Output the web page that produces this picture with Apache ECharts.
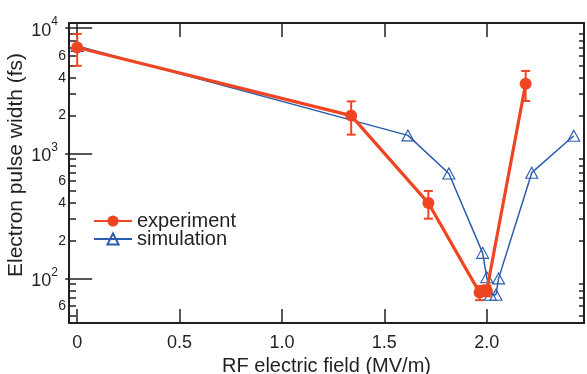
<!DOCTYPE html>
<html>
<head>
<meta charset="utf-8">
<script src="https://cdn.jsdelivr.net/npm/echarts@6/dist/echarts.min.js"></script>
<style>
  html, body { margin: 0; padding: 0; background: #fff; }
  #chart { width: 587px; height: 374px; }
</style>
</head>
<body>
<div id="chart"></div>
<script>
// experiment (red dots with error bars)
const expX = [0, 1.338, 1.715, 1.965, 2.0, 2.19];
const expY = [7000, 2000, 400, 77, 80, 3600];
const expLow = [5000, 1410, 300, 67, 72, 2620];
const expHigh = [9000, 2600, 500, 87, 88, 4550];

// simulation (blue hollow triangles)
const simX = [0, 1.615, 1.815, 1.98, 2.0, 2.018, 2.045, 2.058, 2.22, 2.425];
const simY = [7200, 1390, 690, 160, 102, 74, 74, 100, 700, 1380];

// ticks
const xTicks = [0, 0.5, 1.0, 1.5, 2.0];
const yDecades = [100, 1000, 10000];
const yMinorTicks = [50, 60, 70, 80, 90, 200, 300, 400, 500, 600, 700, 800, 900,
  2000, 3000, 4000, 5000, 6000, 7000, 8000, 9000];
const yMinorLabels = [60, 200, 400, 600, 2000, 4000, 6000];

const RED = "#ef4523";
const BLUE = "#2a5cae";
const INK = "#231f20";
const FONT = "'Liberation Sans', Arial, sans-serif";

const yMin = 44, yMax = 11000;
const xMin = -0.04, xMax = 2.475;

const myChart = echarts.init(document.getElementById("chart"));

function logAxis(position, opts) {
  return Object.assign({
    type: "log",
    position: position,
    min: yMin,
    max: yMax,
    splitLine: { show: false },
    minorTick: { show: false },
    axisLine: { show: false },
    axisTick: { show: false },
    axisLabel: { show: false },
  }, opts);
}

myChart.setOption({
  animation: false,
  grid: { left: 69, right: 3, top: 23, bottom: 51, outerBoundsMode: "none", containLabel: false },
  legend: {
    orient: "vertical",
    left: 88,
    top: 206,
    itemWidth: 38,
    itemHeight: 14,
    itemGap: -2,
    data: ["experiment", "simulation"],
    textStyle: { fontSize: 20, fontFamily: FONT, color: INK, lineHeight: 18 },
  },
  xAxis: [
    {
      type: "value",
      min: xMin,
      max: xMax,
      position: "bottom",
      name: "RF electric field (MV/m)",
      nameLocation: "middle",
      nameGap: 29,
      nameTextStyle: { fontSize: 20, fontFamily: FONT, color: INK },
      splitLine: { show: false },
      axisLine: { show: true, onZero: false, lineStyle: { color: INK, width: 2 } },
      axisTick: { show: true, inside: true, length: 14, customValues: xTicks,
        lineStyle: { color: INK, width: 1.5 } },
      axisLabel: { customValues: xTicks, margin: 11, fontSize: 18, fontFamily: FONT, color: INK,
        formatter: (v) => (v === 0 ? "0" : v.toFixed(1)) },
    },
    {
      type: "value",
      min: xMin,
      max: xMax,
      position: "top",
      splitLine: { show: false },
      axisLine: { show: true, onZero: false, lineStyle: { color: INK, width: 2 } },
      axisTick: { show: true, inside: true, length: 14, customValues: xTicks,
        lineStyle: { color: INK, width: 1.5 } },
      axisLabel: { show: false },
    },
  ],
  yAxis: [
    logAxis("left", {
      name: "Electron pulse width (fs)",
      nameLocation: "middle",
      nameGap: 42,
      nameTextStyle: { fontSize: 21, fontFamily: FONT, color: INK, padding: [0, 0, 0, 16] },
      axisLine: { show: true, onZero: false, lineStyle: { color: INK, width: 2 } },
      axisTick: { show: true, inside: true, length: 7, customValues: yMinorTicks,
        lineStyle: { color: INK, width: 1.5 } },
      axisLabel: { show: true, customValues: yMinorLabels, margin: 3, fontSize: 14,
        fontFamily: FONT, color: INK, formatter: (v) => String(Math.round(v / Math.pow(10, Math.floor(Math.log10(v) + 1e-9)))) },
    }),
    logAxis("left", {
      axisTick: { show: true, inside: true, length: 15, customValues: yDecades,
        lineStyle: { color: INK, width: 1.5 } },
      axisLabel: { show: true, customValues: yDecades, margin: 11, fontFamily: FONT, color: INK,
        formatter: (v) => "{b|10}{s|" + Math.round(Math.log10(v)) + "}",
        rich: {
          b: { fontSize: 18, fontFamily: FONT, color: INK, verticalAlign: "bottom", lineHeight: 24 },
          s: { fontSize: 12, fontFamily: FONT, color: INK, verticalAlign: "top", lineHeight: 24 },
        } },
    }),
    logAxis("right", {
      axisLine: { show: true, onZero: false, lineStyle: { color: INK, width: 2 } },
      axisTick: { show: true, inside: true, length: 5, customValues: yMinorTicks,
        lineStyle: { color: INK, width: 1.5 } },
    }),
    logAxis("right", {
      axisTick: { show: true, inside: true, length: 12, customValues: yDecades,
        lineStyle: { color: INK, width: 1.5 } },
    }),
  ],
  series: [
    {
      name: "simulation",
      type: "line",
      xAxisIndex: 0,
      yAxisIndex: 0,
      data: simX.map((x, i) => [x, simY[i]]),
      symbol: "triangle",
      symbolSize: [12, 11],
      showAllSymbol: true,
      lineStyle: { color: BLUE, width: 1.5 },
      itemStyle: { color: "rgba(255,255,255,0)", borderColor: BLUE, borderWidth: 1.1 },
      z: 2,
    },
    {
      name: "experiment",
      type: "line",
      xAxisIndex: 0,
      yAxisIndex: 0,
      data: expX.map((x, i) => [x, expY[i]]),
      symbol: "circle",
      symbolSize: 12,
      showAllSymbol: true,
      lineStyle: { color: RED, width: 3.2 },
      itemStyle: { color: RED, borderWidth: 0 },
      z: 3,
    },
    {
      name: "experiment-err",
      type: "custom",
      xAxisIndex: 0,
      yAxisIndex: 0,
      data: expX.map((x, i) => [x, expLow[i], expHigh[i]]),
      encode: { x: 0, y: [1, 2] },
      z: 4,
      renderItem: (params, api) => {
        const lo = api.coord([api.value(0), api.value(1)]);
        const hi = api.coord([api.value(0), api.value(2)]);
        const w = 4.5;
        const style = { stroke: RED, lineWidth: 2 };
        return {
          type: "group",
          children: [
            { type: "line", shape: { x1: lo[0], y1: lo[1], x2: hi[0], y2: hi[1] }, style: style },
            { type: "line", shape: { x1: lo[0] - w, y1: lo[1], x2: lo[0] + w, y2: lo[1] }, style: style },
            { type: "line", shape: { x1: hi[0] - w, y1: hi[1], x2: hi[0] + w, y2: hi[1] }, style: style },
          ],
        };
      },
    },
  ],
});
</script>
</body>
</html>
